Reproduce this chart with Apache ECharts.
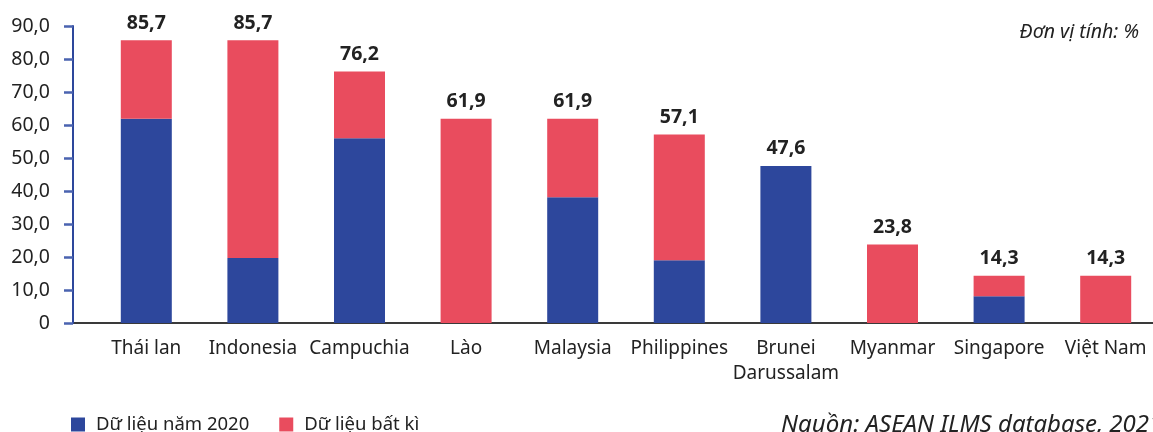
<!DOCTYPE html>
<html><head><meta charset="utf-8">
<script src="https://cdn.jsdelivr.net/npm/echarts@6/dist/echarts.min.js"></script>
<style>html,body{margin:0;padding:0;background:#fff}#c{width:1153px;height:432px}</style>
</head><body><div id="c"></div>
<script>
var categories = ['Thái lan','Indonesia','Campuchia','Lào','Malaysia','Philippines','Brunei\nDarussalam','Myanmar','Singapore','Việt Nam'];
var data2020 = [61.9, 19.7, 56.0, 0, 38.1, 19.0, 47.6, 0, 8.1, 0];
var dataAny = [23.8, 66.0, 20.2, 61.9, 23.8, 38.1, 0, 23.8, 6.2, 14.3];
var totals = [85.7, 85.7, 76.2, 61.9, 61.9, 57.1, 47.6, 23.8, 14.3, 14.3];
var seriesNames = ['Dữ liệu năm 2020', 'Dữ liệu bất kì'];
var unitText = 'Đơn vị tính: %';
var sourceText = 'Nguồn: ASEAN ILMS database, 2021';

var FONT = '"Noto Sans", "Open Sans", sans-serif';
function fmt(v){ return v === 0 ? '0' : v.toFixed(1).replace('.', ','); }

var chart = echarts.init(document.getElementById('c'));
chart.setOption({
  animation: false,
  textStyle: {fontFamily: FONT},
  grid: {left: 93, width: 1066, top: 26, bottom: 109, outerBoundsMode: 'none', containLabel: false},
  legend: {
    data: seriesNames, left: 66, top: 410, itemWidth: 14, itemHeight: 14, itemGap: 30,
    icon: 'rect', textStyle: {fontFamily: FONT, fontSize: 18.5, color: '#222', padding: [0,0,0,6]}
  },
  xAxis: {
    type: 'category', data: categories,
    axisLine: {lineStyle: {color: '#3a3a3a', width: 2}},
    axisTick: {show: false},
    axisLabel: {fontFamily: FONT, fontSize: 19, color: '#222', margin: 13, lineHeight: 25, interval: 0}
  },
  yAxis: {
    type: 'value', min: 0, max: 90, interval: 10, offset: 20,
    axisLine: {show: true, lineStyle: {color: '#2D479C', width: 2}},
    axisTick: {show: true, length: 9, lineStyle: {color: '#4a63b0', width: 2.5}},
    splitLine: {show: false},
    axisLabel: {fontFamily: FONT, fontSize: 19.5, color: '#222', margin: 23, formatter: fmt}
  },
  graphic: [
    {type: 'line', shape: {x1: 73, y1: 323, x2: 94, y2: 323}, style: {stroke: '#3a3a3a', lineWidth: 2}},
    {type: 'text', right: 14, top: 22, style: {text: unitText, font: 'italic 19.5px ' + FONT, fill: '#222'}},
    {type: 'text', left: 781, top: 413, style: {text: sourceText, font: 'italic 24px ' + FONT, fill: '#222'}}
  ],
  series: [
    {name: seriesNames[0], type: 'bar', stack: 's', data: data2020, barWidth: 51, itemStyle: {color: '#2D479C'}},
    {name: seriesNames[1], type: 'bar', stack: 's', data: dataAny, barWidth: 51, itemStyle: {color: '#E94C5E'}},
    {name: 'total', type: 'bar', data: totals, barWidth: 51, barGap: '-100%', z: 1, silent: true,
     itemStyle: {color: 'rgba(0,0,0,0)'},
     label: {show: true, position: 'top', distance: 7, fontFamily: FONT, fontSize: 19.5, fontWeight: 'bold', color: '#222',
       formatter: function(p){ return fmt(p.value); }}}
  ]
});
</script></body></html>
